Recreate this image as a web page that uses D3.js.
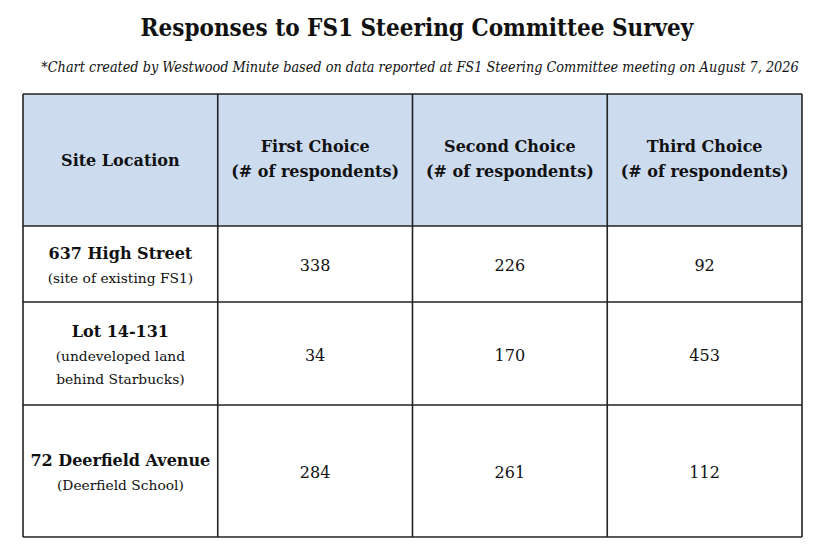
<!DOCTYPE html>
<html>
<head>
<meta charset="utf-8">
<script src="https://cdn.jsdelivr.net/npm/d3@7"></script>
<style>
  body { margin: 0; background: #fff; }
  svg text { font-family: "DejaVu Serif", serif; fill: #111; }
</style>
</head>
<body>
<svg id="chart"></svg>
<script>
// table contents
const title = 'Responses to FS1 Steering Committee Survey';
const note = '*Chart created by Westwood Minute based on data reported at FS1 Steering Committee meeting on August 7, 2026';
const columns = ['Site Location', 'First Choice', 'Second Choice', 'Third Choice'];
const columnSub = ['', '(# of respondents)', '(# of respondents)', '(# of respondents)'];
const sites = ['637 High Street', 'Lot 14-131', '72 Deerfield Avenue'];
const siteNotes = [['(site of existing FS1)'], ['(undeveloped land', 'behind Starbucks)'], ['(Deerfield School)']];
const firstChoice = [338, 34, 284];
const secondChoice = [226, 170, 261];
const thirdChoice = [92, 453, 112];

const width = 825, height = 554;
const svg = d3.select('#chart').attr('width', width).attr('height', height);

// columns are equal width
const x = d3.scaleBand().domain(columns).range([23, 802]);

// rows differ in height: header, then one per site
const rowKeys = ['header'].concat(sites);
const rowHeights = [132, 76, 103, 132];
const rowTop = d3.scaleOrdinal()
  .domain(rowKeys)
  .range(d3.cumsum([94].concat(rowHeights.slice(0, -1))));
const rowH = d3.scaleOrdinal().domain(rowKeys).range(rowHeights);

// title and note
svg.append('text')
  .attr('x', 417).attr('y', 36)
  .attr('text-anchor', 'middle')
  .style('font-family', '"DejaVu Serif Condensed", "DejaVu Serif", serif')
  .style('font-size', '24px').style('font-weight', 'bold')
  .text(title);

svg.append('text')
  .attr('x', 420).attr('y', 72)
  .attr('text-anchor', 'middle')
  .style('font-family', '"DejaVu Serif Condensed", "DejaVu Serif", serif')
  .style('font-size', '14.3px').style('font-style', 'italic')
  .text(note);

// header background
svg.append('rect')
  .attr('x', x.range()[0]).attr('y', rowTop('header'))
  .attr('width', x.range()[1] - x.range()[0]).attr('height', rowH('header'))
  .attr('fill', '#cddbef');

// header labels
const head = svg.append('g').selectAll('text')
  .data(columns)
  .join('text')
  .attr('x', d => x(d) + x.bandwidth() / 2)
  .attr('text-anchor', 'middle')
  .style('font-size', '16px').style('font-weight', 'bold');

head.each(function (d, i) {
  const t = d3.select(this);
  const cx = x(d) + x.bandwidth() / 2;
  const cy = rowTop('header') + rowH('header') / 2;
  if (columnSub[i]) {
    t.append('tspan').attr('x', cx).attr('y', cy - 8).text(d);
    t.append('tspan').attr('x', cx).attr('y', cy + 17).text(columnSub[i]);
  } else {
    t.attr('y', cy + 6).text(d);
  }
});

// site labels
const siteG = svg.append('g').selectAll('g')
  .data(sites)
  .join('g');

siteG.each(function (d, i) {
  const g = d3.select(this);
  const cx = x(columns[0]) + x.bandwidth() / 2;
  const lines = siteNotes[i];
  const block = 24 + lines.length * 23;
  const top = rowTop(d) + (rowH(d) - block) / 2;
  g.append('text')
    .attr('x', cx).attr('y', top + 18)
    .attr('text-anchor', 'middle')
    .style('font-size', '16px').style('font-weight', 'bold')
    .text(d);
  g.selectAll('text.sub')
    .data(lines)
    .join('text')
    .attr('class', 'sub')
    .attr('x', cx).attr('y', (s, j) => top + 42 + j * 23)
    .attr('text-anchor', 'middle')
    .style('font-size', '13.8px')
    .text(s => s);
});

// numbers
const choiceSeries = [firstChoice, secondChoice, thirdChoice];
const cells = [];
choiceSeries.forEach((series, c) => {
  series.forEach((v, r) => cells.push({ col: columns[c + 1], row: sites[r], value: v }));
});

svg.append('g').selectAll('text')
  .data(cells)
  .join('text')
  .attr('x', d => x(d.col) + x.bandwidth() / 2)
  .attr('y', d => rowTop(d.row) + rowH(d.row) / 2 + 7)
  .attr('text-anchor', 'middle')
  .style('font-size', '16px')
  .text(d => d.value);

// grid lines
const grid = svg.append('g').attr('stroke', '#222').attr('stroke-width', 1.6);
const yTop = rowTop('header');
const yBottom = rowTop(sites[sites.length - 1]) + rowH(sites[sites.length - 1]);

grid.selectAll('line.h')
  .data(rowKeys.map(k => rowTop(k)).concat([yBottom]))
  .join('line')
  .attr('class', 'h')
  .attr('x1', x.range()[0]).attr('x2', x.range()[1])
  .attr('y1', d => d).attr('y2', d => d);

grid.selectAll('line.v')
  .data(columns.map(c => x(c)).concat([x.range()[1]]))
  .join('line')
  .attr('class', 'v')
  .attr('x1', d => d).attr('x2', d => d)
  .attr('y1', yTop).attr('y2', yBottom);
</script>
</body>
</html>
